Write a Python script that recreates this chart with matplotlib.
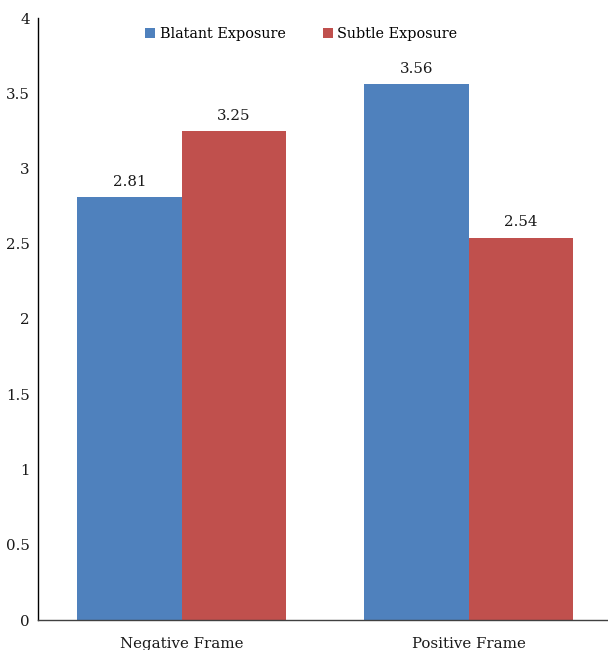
import matplotlib
matplotlib.use("Agg")
import matplotlib.pyplot as plt
import numpy as np

categories = ["Negative Frame", "Positive Frame"]
series_names = ["Blatant Exposure", "Subtle Exposure"]
blatant = [2.81, 3.56]
subtle = [3.25, 2.54]
y_ticks = [0, 0.5, 1, 1.5, 2, 2.5, 3, 3.5, 4]
y_tick_labels = ["0", "0.5", "1", "1.5", "2", "2.5", "3", "3.5", "4"]

colors = ["#4F81BD", "#C0504D"]
plt.rcParams["font.family"] = ["DejaVu Serif"]

fig = plt.figure(figsize=(6.08, 6.5), dpi=100)
ax = fig.add_axes([38 / 608, 30 / 650, 570 / 608, 602 / 650])

x = np.arange(len(categories))
w = 0.363
bars1 = ax.bar(x - w / 2, blatant, w, color=colors[0], label=series_names[0])
bars2 = ax.bar(x + w / 2, subtle, w, color=colors[1], label=series_names[1])

for bars, vals in ((bars1, blatant), (bars2, subtle)):
    for b, v in zip(bars, vals):
        ax.annotate(f"{v:.2f}", (b.get_x() + b.get_width() / 2, v),
                    xytext=(0, 6), textcoords="offset points",
                    ha="center", va="bottom", fontsize=10.8, color="#1a1a1a")

ax.set_xlim(-0.5, 1.486)
ax.set_ylim(0, 4)
ax.set_yticks(y_ticks)
ax.set_yticklabels(y_tick_labels)
ax.set_xticks(x)
ax.set_xticklabels(categories)
ax.tick_params(axis="both", length=0, labelsize=10.8, colors="#1a1a1a")
ax.tick_params(axis="y", pad=6)
ax.tick_params(axis="x", pad=12)
for s in ("top", "right"):
    ax.spines[s].set_visible(False)
ax.spines["left"].set_color("#000000")
ax.spines["bottom"].set_color("#404040")
ax.spines["left"].set_linewidth(1.0)
ax.spines["bottom"].set_linewidth(1.0)

ax.legend(loc="upper center", bbox_to_anchor=(0.462, 1.006), ncol=2, frameon=False,
          fontsize=10.4, handlelength=0.7, handleheight=0.7, handletextpad=0.3,
          columnspacing=2.6)

fig.savefig("out.png", dpi=100)
